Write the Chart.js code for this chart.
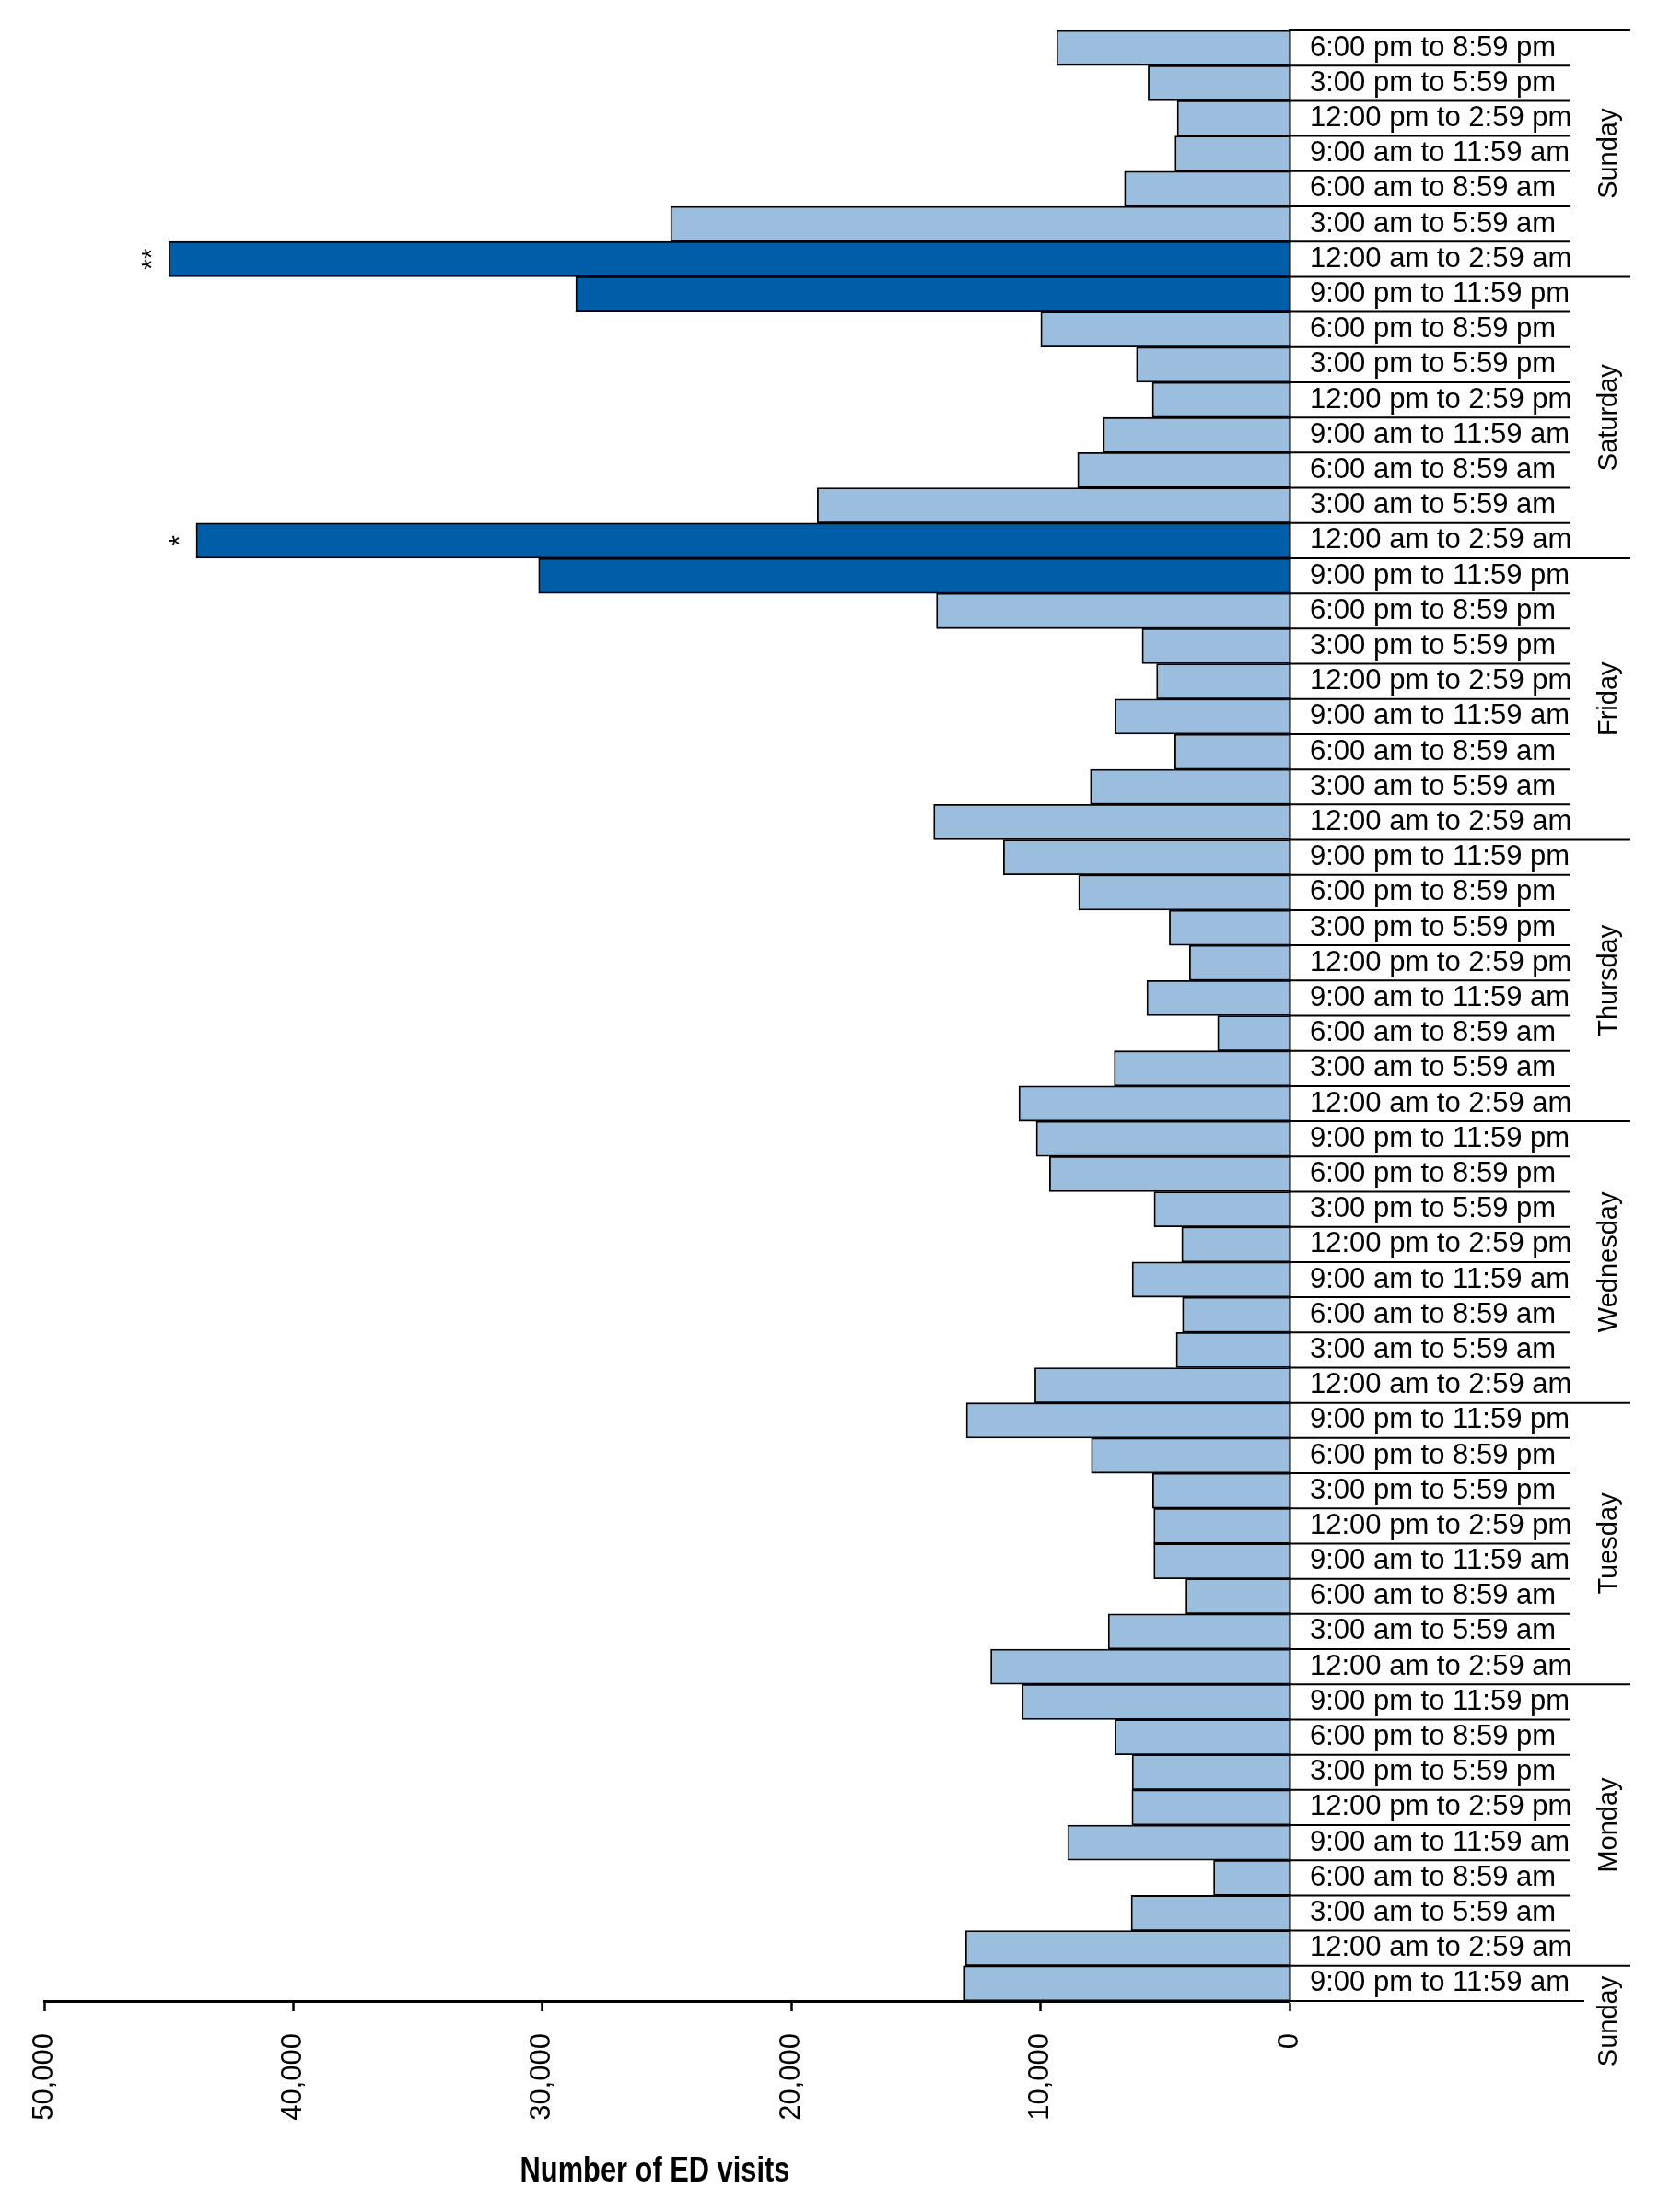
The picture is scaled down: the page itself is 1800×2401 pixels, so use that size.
<!DOCTYPE html>
<html>
<head>
<meta charset="utf-8">
<title>ED visits by time of day</title>
<script src="https://cdn.jsdelivr.net/npm/chart.js@4.4.1/dist/chart.umd.min.js"></script>
<style>
  html, body { margin: 0; padding: 0; background: #fff; }
  #wrap { width: 1800px; height: 2401px; position: relative; }
</style>
</head>
<body>
<div id="wrap"><canvas id="visitsChart"></canvas></div>
<script>
// Time slots, top to bottom (the last one is printed this way in the original)
const rowLabels = [
    // Sunday
    '6:00 pm to 8:59 pm', '3:00 pm to 5:59 pm', '12:00 pm to 2:59 pm', '9:00 am to 11:59 am',
    '6:00 am to 8:59 am', '3:00 am to 5:59 am', '12:00 am to 2:59 am',
    // Saturday
    '9:00 pm to 11:59 pm', '6:00 pm to 8:59 pm', '3:00 pm to 5:59 pm', '12:00 pm to 2:59 pm',
    '9:00 am to 11:59 am', '6:00 am to 8:59 am', '3:00 am to 5:59 am', '12:00 am to 2:59 am',
    // Friday
    '9:00 pm to 11:59 pm', '6:00 pm to 8:59 pm', '3:00 pm to 5:59 pm', '12:00 pm to 2:59 pm',
    '9:00 am to 11:59 am', '6:00 am to 8:59 am', '3:00 am to 5:59 am', '12:00 am to 2:59 am',
    // Thursday
    '9:00 pm to 11:59 pm', '6:00 pm to 8:59 pm', '3:00 pm to 5:59 pm', '12:00 pm to 2:59 pm',
    '9:00 am to 11:59 am', '6:00 am to 8:59 am', '3:00 am to 5:59 am', '12:00 am to 2:59 am',
    // Wednesday
    '9:00 pm to 11:59 pm', '6:00 pm to 8:59 pm', '3:00 pm to 5:59 pm', '12:00 pm to 2:59 pm',
    '9:00 am to 11:59 am', '6:00 am to 8:59 am', '3:00 am to 5:59 am', '12:00 am to 2:59 am',
    // Tuesday
    '9:00 pm to 11:59 pm', '6:00 pm to 8:59 pm', '3:00 pm to 5:59 pm', '12:00 pm to 2:59 pm',
    '9:00 am to 11:59 am', '6:00 am to 8:59 am', '3:00 am to 5:59 am', '12:00 am to 2:59 am',
    // Monday
    '9:00 pm to 11:59 pm', '6:00 pm to 8:59 pm', '3:00 pm to 5:59 pm', '12:00 pm to 2:59 pm',
    '9:00 am to 11:59 am', '6:00 am to 8:59 am', '3:00 am to 5:59 am', '12:00 am to 2:59 am',
    // Sunday
    '9:00 pm to 11:59 am'
];

// Day names and how many slots each one covers (top to bottom)
const dayNames = ['Sunday', 'Saturday', 'Friday', 'Thursday', 'Wednesday', 'Tuesday', 'Monday', 'Sunday'];
const dayRowCounts = [7, 8, 8, 8, 8, 8, 8, 1];

// Number of ED visits per slot (same order as rowLabels)
const visits = [
    9350, 5680, 4510, 4600, 6630, 24850, 45000,
    28660, 9990, 6150, 5510, 7480, 8510, 18960, 43900,
    30150, 14180, 5920, 5340, 7010, 4610, 8000, 14290,
    11490, 8470, 4830, 4020, 5730, 2890, 7040, 10870,
    10170, 9640, 5440, 4330, 6320, 4300, 4550, 10230,
    12980, 7960, 5500, 5450, 5450, 4160, 7280, 12000,
    10740, 7010, 6320, 6330, 8910, 3050, 6360, 13010,
    13070
];

// Highlighted slots (dark bars) and significance marks
const peakRows = [6, 7, 14, 15];
const starRows = [6, 14];
const starMarks = ['**', '*'];

// Axis ticks and title
const xTicks = [0, 10000, 20000, 30000, 40000, 50000];
const xTitle = 'Number of ED visits';

const lightBlue = '#9bbdde';
const darkBlue = '#005ea8';
const barColors = visits.map((v, i) => peakRows.includes(i) ? darkBlue : lightBlue);

// Separator lines, day names, stars and the (condensed) axis title
const dividers = {
    id: 'dividers',
    afterDraw(chart) {
        const { ctx, chartArea, scales: { x, y } } = chart;
        const base = x.getPixelForValue(0);
        const n = rowLabels.length;

        // rows where a new day starts
        const dayStarts = [];
        let s = 0;
        dayRowCounts.forEach(c => { dayStarts.push(s); s += c; });

        ctx.save();
        ctx.strokeStyle = '#000';
        ctx.lineWidth = 2;
        for (let i = 0; i <= n; i++) {
            const yy = y.getPixelForValue(i - 0.5);
            let len = 305;
            if (dayStarts.includes(i)) len = 370;
            if (i === n) len = 320;
            ctx.beginPath();
            ctx.moveTo(base, yy);
            ctx.lineTo(base + len, yy);
            ctx.stroke();
        }

        // day names, rotated
        ctx.fillStyle = '#000';
        ctx.font = '29px "Liberation Sans", Arial, sans-serif';
        ctx.textAlign = 'center';
        ctx.textBaseline = 'middle';
        dayNames.forEach((name, g) => {
            const top = y.getPixelForValue(dayStarts[g] - 0.5);
            const bottom = y.getPixelForValue(dayStarts[g] + dayRowCounts[g] - 0.5);
            const w = ctx.measureText(name).width;
            let cy = (top + bottom) / 2;
            if (bottom - top < w) cy = top + 11 + w / 2;
            ctx.save();
            ctx.translate(base + 347, cy);
            ctx.rotate(-Math.PI / 2);
            ctx.fillText(name, 0, 0);
            ctx.restore();
        });

        // significance stars left of the bar ends
        ctx.font = '30px "Liberation Sans", Arial, sans-serif';
        ctx.textBaseline = 'alphabetic';
        starRows.forEach((row, k) => {
            const bx = x.getPixelForValue(visits[row]);
            const by = y.getPixelForValue(row);
            ctx.save();
            ctx.translate(bx - 9, by);
            ctx.rotate(-Math.PI / 2);
            ctx.fillText(starMarks[k], 0, 0);
            ctx.restore();
        });

        // axis title in a condensed bold face
        ctx.font = 'bold 39px "Liberation Sans", Arial, sans-serif';
        ctx.textAlign = 'center';
        ctx.save();
        ctx.translate((chartArea.left + chartArea.right) / 2 - 13, chartArea.bottom + 196);
        ctx.scale(0.79, 1);
        ctx.fillText(xTitle, 0, 0);
        ctx.restore();
        ctx.restore();
    }
};

const ctx = document.getElementById('visitsChart').getContext('2d');
const visitsChart = new Chart(ctx, {
    type: 'bar',
    data: {
        labels: rowLabels,
        datasets: [{
            label: xTitle,
            data: visits,
            backgroundColor: barColors,
            borderColor: '#000',
            borderWidth: 1.8,
            barPercentage: 1,
            categoryPercentage: 1
        }]
    },
    options: {
        indexAxis: 'y',
        responsive: true,
        maintainAspectRatio: false,
        animation: false,
        layout: { padding: { top: 33, left: 48, right: 0, bottom: 0 } },
        plugins: {
            legend: { display: false },
            tooltip: { enabled: false }
        },
        scales: {
            x: {
                position: 'bottom',
                reverse: true,
                min: 0,
                max: 50000,
                afterBuildTicks: scale => { scale.ticks = xTicks.map(v => ({ value: v })); },
                afterFit: scale => { scale.height = 229; },
                grid: {
                    drawOnChartArea: false,
                    drawTicks: true,
                    tickLength: 11,
                    tickWidth: 2.5,
                    tickColor: '#000'
                },
                border: { display: true, color: '#000', width: 3 },
                ticks: {
                    autoSkip: false,
                    minRotation: 90,
                    maxRotation: 90,
                    padding: 24,
                    color: '#000',
                    font: { family: '"Liberation Sans", Arial, sans-serif', size: 31 },
                    callback: v => Number(v).toLocaleString('en-US')
                }
            },
            y: {
                position: 'right',
                offset: true,
                afterFit: scale => {
                    scale.width = 400;
                    scale.paddingTop = 0;
                    scale.paddingBottom = 0;
                },
                grid: { display: true, drawOnChartArea: false, drawTicks: false },
                border: { display: true, color: '#000', width: 2.5 },
                ticks: {
                    autoSkip: false,
                    padding: 22,
                    color: '#000',
                    font: { family: '"Liberation Sans", Arial, sans-serif', size: 31 }
                }
            }
        }
    },
    plugins: [dividers]
});
</script>
</body>
</html>
